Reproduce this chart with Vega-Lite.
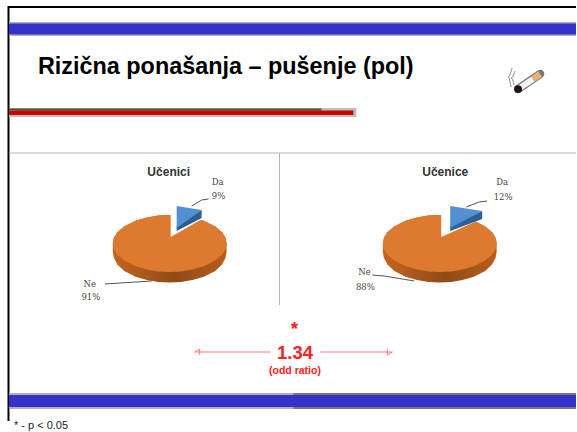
{
"$schema":"https://vega.github.io/schema/vega-lite/v6.json",
"width":577,"height":432,"padding":0,
"autosize":{"type":"fit","contains":"padding"},
"background":"white",
"config":{"view":{"stroke":null}},
"datasets":{
"outline":[
{"pie":"Učenici","x":113,"top":243.5,"bottom":243.5,"base":252},
{"pie":"Učenici","x":114.1,"top":237.8,"bottom":249.2,"base":258},
{"pie":"Učenici","x":117.6,"top":232.3,"bottom":254.7,"base":264.5},
{"pie":"Učenici","x":124.4,"top":226.4,"bottom":260.6,"base":271},
{"pie":"Učenici","x":135.8,"top":220.7,"bottom":266.3,"base":276.8},
{"pie":"Učenici","x":147.2,"top":217.4,"bottom":269.6,"base":280.1},
{"pie":"Učenici","x":158.6,"top":215.6,"bottom":271.4,"base":281.9},
{"pie":"Učenici","x":170,"top":215,"bottom":272,"base":282.5},
{"pie":"Učenici","x":181.4,"top":215.6,"bottom":271.4,"base":281.9},
{"pie":"Učenici","x":192.8,"top":217.4,"bottom":269.6,"base":280.1},
{"pie":"Učenici","x":204.2,"top":220.7,"bottom":266.3,"base":276.8},
{"pie":"Učenici","x":215.6,"top":226.4,"bottom":260.6,"base":271},
{"pie":"Učenici","x":222.4,"top":232.3,"bottom":254.7,"base":264.5},
{"pie":"Učenici","x":225.9,"top":237.8,"bottom":249.2,"base":258},
{"pie":"Učenici","x":227,"top":243.5,"bottom":243.5,"base":252},
{"pie":"Učenice","x":383.5,"top":243.5,"bottom":243.5,"base":252},
{"pie":"Učenice","x":384.6,"top":237.8,"bottom":249.2,"base":258},
{"pie":"Učenice","x":388.1,"top":232.3,"bottom":254.7,"base":264.5},
{"pie":"Učenice","x":394.9,"top":226.4,"bottom":260.6,"base":271},
{"pie":"Učenice","x":406.3,"top":220.7,"bottom":266.3,"base":276.8},
{"pie":"Učenice","x":417.7,"top":217.4,"bottom":269.6,"base":280.1},
{"pie":"Učenice","x":429.1,"top":215.6,"bottom":271.4,"base":281.9},
{"pie":"Učenice","x":440.5,"top":215,"bottom":272,"base":282.5},
{"pie":"Učenice","x":451.9,"top":215.6,"bottom":271.4,"base":281.9},
{"pie":"Učenice","x":463.3,"top":217.4,"bottom":269.6,"base":280.1},
{"pie":"Učenice","x":474.7,"top":220.7,"bottom":266.3,"base":276.8},
{"pie":"Učenice","x":486.1,"top":226.4,"bottom":260.6,"base":271},
{"pie":"Učenice","x":492.9,"top":232.3,"bottom":254.7,"base":264.5},
{"pie":"Učenice","x":496.4,"top":237.8,"bottom":249.2,"base":258},
{"pie":"Učenice","x":497.5,"top":243.5,"bottom":243.5,"base":252}
],
"gap":[
{"pie":"Učenici","x":171,"top":212,"bottom":237},
{"pie":"Učenici","x":204.2,"top":212,"bottom":218},
{"pie":"Učenice","x":442,"top":212,"bottom":237},
{"pie":"Učenice","x":480,"top":212,"bottom":220}
],
"sliceSide":[
{"pie":"Učenici","x":177,"top":226,"bottom":231},
{"pie":"Učenici","x":202,"top":210,"bottom":218},
{"pie":"Učenice","x":451,"top":226,"bottom":231},
{"pie":"Učenice","x":483,"top":211,"bottom":219}
],
"sliceFace":[
{"pie":"Učenici","x":177,"top":206,"bottom":228},
{"pie":"Učenici","x":202,"top":210,"bottom":210},
{"pie":"Učenice","x":451,"top":206,"bottom":228},
{"pie":"Učenice","x":483,"top":211,"bottom":211}
],
"pieLabels":[
{"pie":"Učenici","answer":"Da","label":"Da","x":218,"y":182},
{"pie":"Učenici","answer":"Da","label":"9%","x":219,"y":196},
{"pie":"Učenici","answer":"Ne","label":"Ne","x":90,"y":284},
{"pie":"Učenici","answer":"Ne","label":"91%","x":91,"y":297},
{"pie":"Učenice","answer":"Da","label":"Da","x":503,"y":182},
{"pie":"Učenice","answer":"Da","label":"12%","x":504,"y":197},
{"pie":"Učenice","answer":"Ne","label":"Ne","x":365,"y":272},
{"pie":"Učenice","answer":"Ne","label":"88%","x":366,"y":287}
],
"leaders":[
{"id":"a","x":209,"y":199},{"id":"a","x":202,"y":200},{"id":"a","x":192,"y":206},
{"id":"b","x":105,"y":284},{"id":"b","x":152,"y":281},
{"id":"c","x":488,"y":201},{"id":"c","x":480,"y":202},{"id":"c","x":467,"y":207},
{"id":"d","x":373,"y":275},{"id":"d","x":385,"y":276},{"id":"d","x":415,"y":281}
],
"arrows":[
{"id":"l","x":195,"y":352},{"id":"l","x":271,"y":352},
{"id":"lh","x":200,"y":349},{"id":"lh","x":195,"y":352},{"id":"lh","x":200,"y":355},
{"id":"r","x":321,"y":352},{"id":"r","x":393,"y":352},
{"id":"rh","x":388,"y":349},{"id":"rh","x":393,"y":352},{"id":"rh","x":388,"y":355}
],
"smoke":[
{"id":"s1","x":513,"y":68},{"id":"s1","x":509,"y":77},{"id":"s1","x":512,"y":87},
{"id":"s2","x":516,"y":71},{"id":"s2","x":512,"y":78},{"id":"s2","x":515,"y":85}
]
},
"encoding":{
"x":{"field":"x","type":"quantitative","axis":null,"scale":{"domain":[0,577],"nice":false,"zero":false}},
"y":{"field":"y","type":"quantitative","axis":null,"stack":null,"scale":{"domain":[432,0],"nice":false,"zero":false}}
},
"layer":[
{"data":{"values":[{"x":8,"x2":577,"y":6,"y2":8},{"x":7.5,"x2":9.5,"y":6,"y2":421}]},"mark":{"type":"rect","color":"#000000"},"encoding":{"x2":{"field":"x2"},"y2":{"field":"y2"}}},
{"data":{"values":[{"x":9,"x2":577,"y":22,"y2":36},{"x":9,"x2":577,"y":393,"y2":409}]},"mark":{"type":"rect","color":"#B0B0B0"},"encoding":{"x2":{"field":"x2"},"y2":{"field":"y2"}}},
{"data":{"values":[{"x":294,"x2":577,"y":393,"y2":395},{"x":294,"x2":577,"y":407,"y2":409}]},"mark":{"type":"rect","color":"#777777"},"encoding":{"x2":{"field":"x2"},"y2":{"field":"y2"}}},
{"data":{"values":[{"x":9,"x2":577,"y":23.5,"y2":34.5},{"x":9,"x2":577,"y":395,"y2":407}]},"mark":{"type":"rect","color":"#3333CC"},"encoding":{"x2":{"field":"x2"},"y2":{"field":"y2"}}},
{"data":{"values":[{"x":9,"x2":357,"y":108,"y2":117}]},"mark":{"type":"rect","color":"#BDBDBD"},"encoding":{"x2":{"field":"x2"},"y2":{"field":"y2"}}},
{"data":{"values":[{"x":9,"x2":322,"y":108.5,"y2":110.5}]},"mark":{"type":"rect","color":"#4A5A30"},"encoding":{"x2":{"field":"x2"},"y2":{"field":"y2"}}},
{"data":{"values":[{"x":9,"x2":354,"y":110.5,"y2":115}]},"mark":{"type":"rect","color":"#CC0000"},"encoding":{"x2":{"field":"x2"},"y2":{"field":"y2"}}},
{"data":{"values":[{"x":9,"x2":577,"y":153,"y2":153},{"x":280,"x2":280,"y":153,"y2":305}]},"mark":{"type":"rule","color":"#B4B4B4","strokeWidth":1},"encoding":{"x2":{"field":"x2"},"y2":{"field":"y2"}}},
{"data":{"name":"outline"},"mark":{"type":"area","color":{"gradient":"linear","x1":0,"x2":1,"y1":0,"y2":0,"stops":[{"offset":0,"color":"#C4651F"},{"offset":0.55,"color":"#8F4B16"},{"offset":1,"color":"#B85D1E"}]}},"encoding":{"y":{"field":"top","type":"quantitative"},"y2":{"field":"base"},"detail":{"field":"pie"}}},
{"data":{"name":"outline"},"mark":{"type":"area","color":"#DE7A30"},"encoding":{"y":{"field":"top","type":"quantitative"},"y2":{"field":"bottom"},"detail":{"field":"pie"}}},
{"data":{"name":"gap"},"mark":{"type":"area","color":"#FFFFFF"},"encoding":{"y":{"field":"top","type":"quantitative"},"y2":{"field":"bottom"},"detail":{"field":"pie"}}},
{"data":{"name":"sliceSide"},"mark":{"type":"area","color":"#2F5F92"},"encoding":{"y":{"field":"top","type":"quantitative"},"y2":{"field":"bottom"},"detail":{"field":"pie"}}},
{"data":{"name":"sliceFace"},"mark":{"type":"area","color":"#5290D2"},"encoding":{"y":{"field":"top","type":"quantitative"},"y2":{"field":"bottom"},"detail":{"field":"pie"}}},
{"data":{"name":"leaders"},"mark":{"type":"line","color":"#555555","strokeWidth":1},"encoding":{"detail":{"field":"id"}}},
{"data":{"name":"pieLabels"},"mark":{"type":"text","font":"DejaVu Serif","fontSize":8.5,"color":"#444444"},"encoding":{"text":{"field":"label"}}},
{"data":{"values":[{"label":"Učenici","x":169,"y":172},{"label":"Učenice","x":446,"y":172}]},"mark":{"type":"text","font":"Liberation Sans","fontSize":12,"fontWeight":"bold","color":"#333333"},"encoding":{"text":{"field":"label"}}},
{"data":{"values":[{"label":"Rizična ponašanja – pušenje (pol)","x":38,"y":67}]},"mark":{"type":"text","font":"Liberation Sans","fontSize":23.4,"fontWeight":"bold","align":"left","color":"#000000"},"encoding":{"text":{"field":"label"}}},
{"data":{"name":"arrows"},"mark":{"type":"line","color":"#FF7777","strokeWidth":1},"encoding":{"detail":{"field":"id"}}},
{"data":{"values":[{"label":"*","x":295,"y":329}]},"mark":{"type":"text","font":"Liberation Sans","fontSize":19,"fontWeight":"bold","color":"#FF2020"},"encoding":{"text":{"field":"label"}}},
{"data":{"values":[{"label":"1.34","x":295.5,"y":353}]},"mark":{"type":"text","font":"Liberation Sans","fontSize":18.5,"fontWeight":"bold","color":"#FF2020"},"encoding":{"text":{"field":"label"}}},
{"data":{"values":[{"label":"(odd ratio)","x":295.5,"y":371}]},"mark":{"type":"text","font":"Liberation Sans","fontSize":10.5,"fontWeight":"bold","color":"#FF2020"},"encoding":{"text":{"field":"label"}}},
{"data":{"values":[{"label":"* - p < 0.05","x":14,"y":426}]},"mark":{"type":"text","font":"Liberation Sans","fontSize":11,"align":"left","color":"#222222"},"encoding":{"text":{"field":"label"}}},
{"data":{"name":"smoke"},"mark":{"type":"line","color":"#888888","strokeWidth":1,"interpolate":"monotone"},"encoding":{"detail":{"field":"id"},"order":{"field":"y"}}},
{"data":{"values":[{"x":519,"y":89},{"x":541,"y":74}]},"mark":{"type":"line","color":"#777777","strokeWidth":8.5,"strokeCap":"round"},"encoding":{}},
{"data":{"values":[{"x":519,"y":89},{"x":534,"y":79}]},"mark":{"type":"line","color":"#F4F4F4","strokeWidth":6},"encoding":{}},
{"data":{"values":[{"x":534,"y":79},{"x":541,"y":74}]},"mark":{"type":"line","color":"#E8B070","strokeWidth":6.5},"encoding":{}},
{"data":{"values":[{"x":519,"y":89}]},"mark":{"type":"circle","color":"#221111","opacity":1,"size":60},"encoding":{}}
]
}
